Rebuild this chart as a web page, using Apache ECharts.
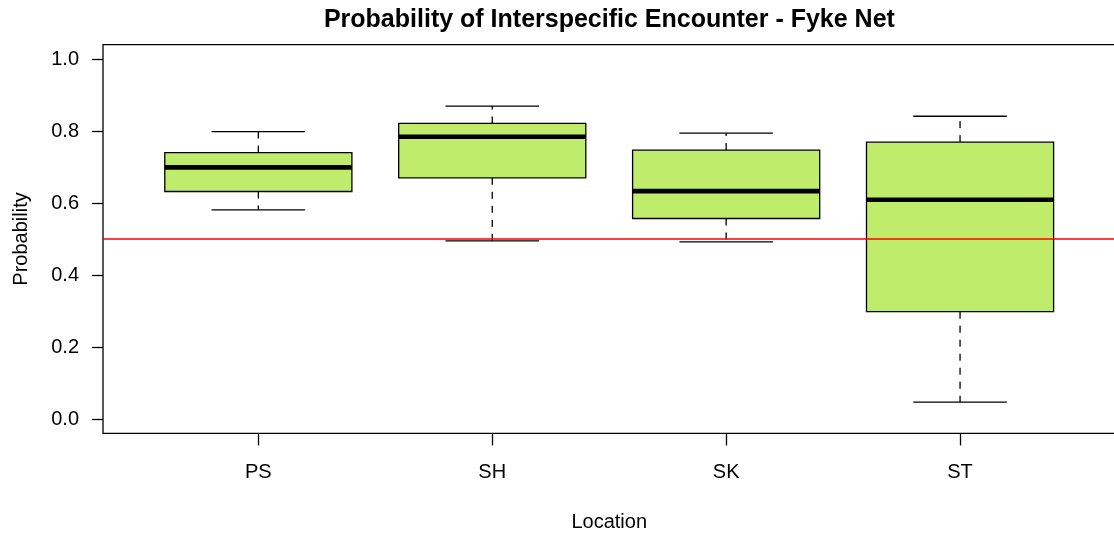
<!DOCTYPE html>
<html>
<head>
<meta charset="utf-8">
<script src="https://cdn.jsdelivr.net/npm/echarts@6/dist/echarts.min.js"></script>
<style>
html,body{margin:0;padding:0;background:#fff;}
#chart{width:1114px;height:534px;}
</style>
</head>
<body>
<div id="chart"></div>
<script>
// ---- data ----
const categories   = ['PS', 'SH', 'SK', 'ST'];
const whiskerLow   = [0.581, 0.495, 0.492, 0.047];
const q1           = [0.632, 0.670, 0.557, 0.298];
const median       = [0.699, 0.784, 0.633, 0.609];
const q3           = [0.740, 0.821, 0.747, 0.769];
const whiskerHigh  = [0.798, 0.869, 0.794, 0.841];
const referenceLevel = 0.5;
const yTickMin = 0, yTickMax = 1, yTickStep = 0.2;
const titleText = 'Probability of Interspecific Encounter - Fyke Net';
const xName = 'Location';
const yName = 'Probability';

const FONT = '"Liberation Sans", Arial, sans-serif';
const boxData = categories.map((c, i) => [i, whiskerLow[i], q1[i], median[i], q3[i], whiskerHigh[i]]);

const chart = echarts.init(document.getElementById('chart'), null, {renderer: 'canvas'});

function renderBox(params, api) {
  const i = api.value(0);
  const band = api.size([1, 0])[0];
  const bw = band * 0.8;
  const cw = bw * 0.5;
  const pLo = api.coord([i, api.value(1)]);
  const pQ1 = api.coord([i, api.value(2)]);
  const pMed = api.coord([i, api.value(3)]);
  const pQ3 = api.coord([i, api.value(4)]);
  const pHi = api.coord([i, api.value(5)]);
  const x = pMed[0];
  const dashStyle = {stroke: '#000', lineWidth: 1.3, lineDash: [7, 7], fill: null};
  const solid = {stroke: '#000', lineWidth: 1.3, fill: null};
  return {
    type: 'group',
    children: [
      {type: 'line', shape: {x1: x, y1: pQ3[1], x2: x, y2: pHi[1]}, style: dashStyle},
      {type: 'line', shape: {x1: x, y1: pQ1[1], x2: x, y2: pLo[1]}, style: dashStyle},
      {type: 'line', shape: {x1: x - cw / 2, y1: pHi[1], x2: x + cw / 2, y2: pHi[1]}, style: solid},
      {type: 'line', shape: {x1: x - cw / 2, y1: pLo[1], x2: x + cw / 2, y2: pLo[1]}, style: solid},
      {type: 'rect', shape: {x: x - bw / 2, y: pQ3[1], width: bw, height: pQ1[1] - pQ3[1]},
        style: {fill: '#BFED6B', stroke: '#000', lineWidth: 1.3}},
      {type: 'line', shape: {x1: x - bw / 2, y1: pMed[1], x2: x + bw / 2, y2: pMed[1]},
        style: {stroke: '#000', lineWidth: 4.6}}
    ]
  };
}

const option = {
  backgroundColor: '#fff',
  animation: false,
  textStyle: {fontFamily: FONT},
  graphic: [{
    type: 'text', x: 609.4, y: 20.5,
    style: {text: titleText, fontSize: 25, fontWeight: 'bold', fontFamily: FONT, fill: '#000',
      align: 'center', verticalAlign: 'middle', textAlign: 'center', textVerticalAlign: 'middle'}
  }],
  grid: [
    // frame
    {left: 103, right: -2, top: 44.6, bottom: 100.6, show: true, borderColor: '#000', borderWidth: 1.3,
      backgroundColor: 'transparent', containLabel: false, outerBoundsMode: 'none'},
    // boxes
    {left: 141.4, right: 37, top: 44.6, bottom: 100.6, containLabel: false, outerBoundsMode: 'none'},
    // y ticks
    {left: 103, right: -2, top: 59, bottom: 115, containLabel: false, outerBoundsMode: 'none'}
  ],
  xAxis: [
    {gridIndex: 0, type: 'value', min: 0, max: 1, show: false},
    {gridIndex: 1, type: 'category', data: categories, position: 'bottom',
      name: xName, nameLocation: 'middle', nameGap: 79,
      nameTextStyle: {fontSize: 20, color: '#000', fontFamily: FONT},
      axisLine: {show: false, onZero: false},
      axisTick: {show: true, alignWithLabel: true, length: 12, lineStyle: {color: '#000', width: 1.3}},
      axisLabel: {fontSize: 20, color: '#000', margin: 29, fontFamily: FONT},
      splitLine: {show: false}},
    {gridIndex: 2, type: 'value', min: 0, max: 1, show: false}
  ],
  yAxis: [
    {gridIndex: 0, type: 'value', min: -0.04, max: 1.04, show: false},
    {gridIndex: 1, type: 'value', min: -0.04, max: 1.04, show: false},
    {gridIndex: 2, type: 'value', min: yTickMin, max: yTickMax, interval: yTickStep,
      name: yName, nameLocation: 'middle', nameGap: 72,
      nameTextStyle: {fontSize: 20, color: '#000', fontFamily: FONT},
      axisLine: {show: false},
      axisTick: {show: true, length: 11, lineStyle: {color: '#000', width: 1.3}},
      axisLabel: {fontSize: 20, color: '#000', margin: 24, fontFamily: FONT, formatter: v => v.toFixed(1)},
      splitLine: {show: false}}
  ],
  series: [
    {type: 'custom', xAxisIndex: 1, yAxisIndex: 1, renderItem: renderBox,
      encode: {x: 0, y: [1, 2, 3, 4, 5]}, data: boxData, z: 2},
    {type: 'line', xAxisIndex: 0, yAxisIndex: 0, symbol: 'none', z: 5,
      lineStyle: {color: '#FF0000', width: 1.5},
      data: [[0, referenceLevel], [1, referenceLevel]]}
  ]
};
chart.setOption(option);
</script>
</body>
</html>
